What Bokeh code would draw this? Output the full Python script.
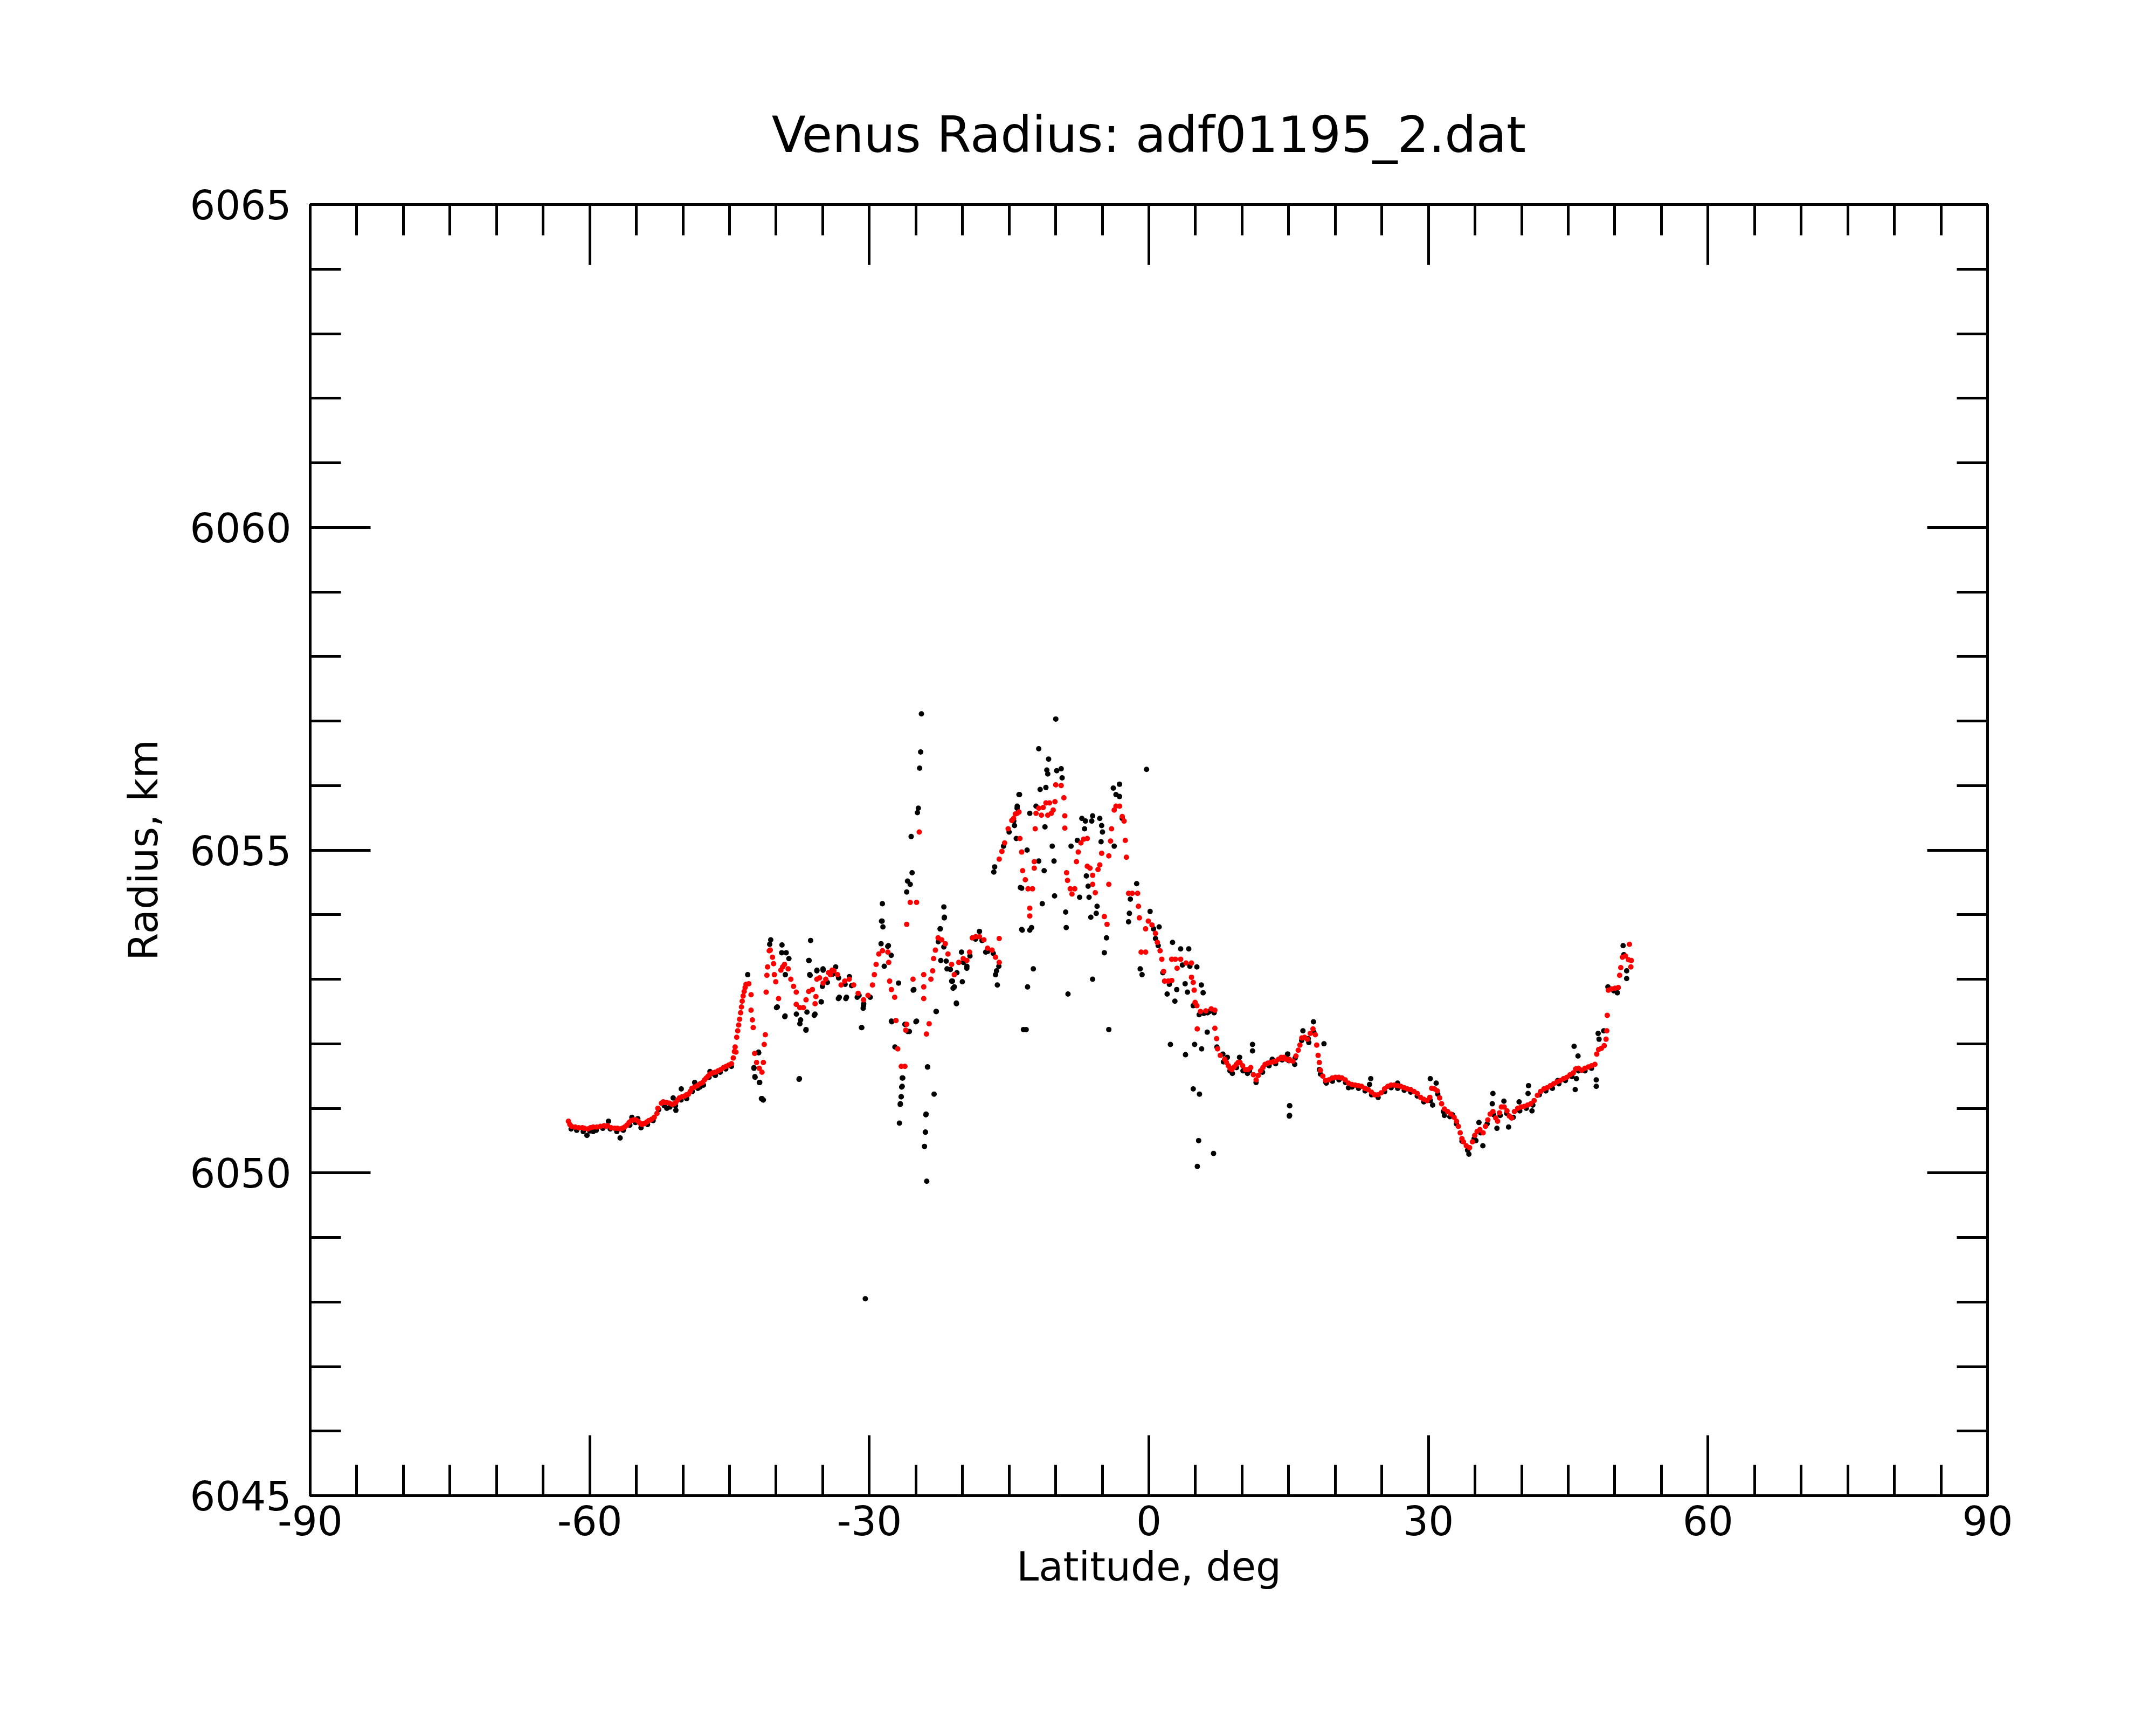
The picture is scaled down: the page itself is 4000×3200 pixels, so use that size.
from bokeh.plotting import figure
from bokeh.models import Range1d, LinearAxis, FixedTicker, ColumnDataSource
from bokeh.embed import file_html
from bokeh.resources import INLINE

title_text = "Venus Radius: adf01195_2.dat"
x_label = "Latitude, deg"
y_label = "Radius, km"

x_ticks = [-90, -60, -30, 0, 30, 60, 90]
x_tick_labels = ["-90", "-60", "-30", "0", "30", "60", "90"]
x_minor = list(range(-90, 91, 5))
y_ticks = [6045, 6050, 6055, 6060, 6065]
y_tick_labels = ["6045", "6050", "6055", "6060", "6065"]
y_minor = list(range(6045, 6066))

# Smoothed radius profile (red)
red_lat = [
    -62.29, -61.95, -61.56, -61.18, -60.79, -60.21, -59.63, -59.24, -58.86, -58.47,
    -58.09, -57.70, -57.32, -56.74, -56.26, -55.78, -55.30, -54.81, -54.43, -54.04,
    -53.66, -53.08, -52.79, -52.69, -52.31, -51.92, -51.73, -51.15, -50.77, -50.38,
    -49.80, -49.41, -49.03, -48.74, -48.45, -48.16, -47.88, -47.49, -47.10, -46.81,
    -46.52, -46.23, -45.94, -45.65, -45.37, -45.08, -44.79, -44.60, -44.47, -44.31,
    -62.14, -60.59, -59.92, -58.28, -57.03, -56.51, -56.01, -55.54, -55.04, -54.62,
    -54.23, -53.85, -53.36, -52.11, -51.44, -50.95, -50.57, -50.09, -49.61, -49.22,
    -47.68, -47.29, -44.40, -44.12, -43.92, -43.72, -43.54, -43.33,
    -44.23, -44.02, -43.81, -43.64, -43.43, -43.23, -42.93, -42.69, -42.69, -42.55,
    -42.46, -42.31, -42.10, -41.81, -41.52, -41.37, -41.28, -41.16, -41.07, -40.99,
    -40.92, -40.74, -40.63, -40.39, -40.27, -40.19, -40.04, -39.74, -39.49, -39.30,
    -39.10, -38.71, -38.42, -38.13, -37.84, -37.84, -37.46, -37.07, -36.79, -36.50,
    -36.11, -35.82, -35.73, -35.63, -35.34, -34.96, -34.67, -34.38, -34.18, -34.00,
    -33.80, -33.41, -33.03, -32.64, -32.16, -31.68, -31.20, -30.62, -30.14, -29.66,
    -29.46, -29.27, -28.98, -28.59, -28.01, -27.92, -27.82, -27.63, -27.28, -27.14,
    -26.95, -26.57, -26.18, -26.09, -25.99, -25.99, -25.61, -24.93, -24.64, -25.31,
    -24.16, -24.16, -24.16, -23.87, -23.58, -23.39, -23.20, -23.10, -22.91, -22.62,
    -22.23, -21.85, -21.56, -21.17, -20.88, -20.40, -19.92, -19.53, -19.24, -18.95,
    -18.57, -18.18, -17.70, -17.31, -16.83, -16.45, -16.06, -16.06, -16.06, -15.77,
    -15.48, -15.10, -14.71, -14.33, -13.94, -14.52, -14.13, -13.84, -13.65, -13.55,
    -13.26, -12.97, -12.78, -12.78, -12.49, -12.30, -12.30, -12.20, -12.11, -11.82,
    -11.53, -11.34, -11.05, -10.85, -10.66, -10.47, -10.27, -10.08, -9.99, -9.41,
    -9.12, -9.02, -9.02, -8.83, -8.73, -8.44, -8.25, -7.96, -7.77, -7.58,
    -7.29, -7.00, -6.61, -6.61, -6.32, -6.03, -6.03, -5.75, -5.46, -5.27,
    -5.07, -4.78, -4.49, -4.30, -4.30, -4.11, -4.01, -3.72, -3.53, -3.14,
    -2.86, -2.66, -2.53, -2.41, -2.18, -1.79, -1.21, -1.12, -1.02, -0.83,
    -0.35, -0.35, -0.06, 0.33, 0.71, 0.91, 1.20, 1.39, 1.58, 1.68,
    2.07, 2.45, 2.45, 2.84, 3.03, 3.41, 3.99, 4.57, 4.57, 4.76,
    4.86, 4.96, 5.15, 5.19, 5.53, 6.11, 6.69, 7.08, 7.08, 7.27,
    7.37, 7.66, 8.14, 8.33, 8.53, 8.71, 8.91, 9.15, 9.39, 9.58,
    9.78, 10.06, 10.35, 10.64, 10.93, 11.22, 11.51, 11.74, 11.99, 12.24,
    12.47, 12.76, 13.05, 13.34, 13.63, 13.92, 14.21, 14.49, 14.40, 14.75,
    15.07, 15.10, 15.45, 15.78, 16.03, 16.21, 16.41, 16.71, 17.01, 17.31,
    17.61, 17.86, 18.01, 18.16, 18.29, 18.41, 18.66, 18.96, 19.32, 19.67,
    20.02, 20.37, 20.72, 21.07, 21.42, 21.77, 22.13, 22.48, 22.83, 23.18,
    23.53, 23.88, 24.23, 24.58, 24.93, 25.29, 25.64, 25.99, 26.34, 26.69,
    27.04, 27.39, 27.74, 28.09, 28.45, 28.80, 29.15, 29.50, 29.85, 30.15,
    30.35, 30.65, 30.95, 31.20, 31.41, 31.71, 32.06, 32.41, 32.76, 33.01,
    33.21, 33.41, 33.59, 33.76, 34.06, 34.42, 34.72, 34.97, 35.22, 35.52,
    35.87, 36.12, 36.37, 36.62, 36.92, 37.22, 37.42, 37.63, 37.83, 38.13,
    38.43, 38.68, 38.93, 39.23, 39.58, 39.93, 40.28, 40.64, 40.99, 41.34,
    41.69, 42.04, 42.39, 42.74, 43.09, 43.44, 43.80, 44.15, 44.50, 44.85,
    45.20, 45.55, 45.80, 46.10, 46.45, 46.80, 47.16, 47.51, 47.86, 48.06,
    48.26, 48.56, 48.86, 49.06, 49.14, 49.19, 49.31, 49.66, 50.02, 50.37,
    50.52, 50.64, 50.82, 51.14, 51.47, 51.57, 51.72, 51.77,
]
red_rad = [
    6050.80, 6050.72, 6050.71, 6050.70, 6050.70, 6050.68, 6050.71, 6050.71, 6050.72, 6050.73,
    6050.73, 6050.70, 6050.69, 6050.68, 6050.71, 6050.78, 6050.82, 6050.80, 6050.75, 6050.77,
    6050.81, 6050.86, 6050.92, 6051.00, 6051.08, 6051.09, 6051.09, 6051.06, 6051.09, 6051.16,
    6051.19, 6051.22, 6051.31, 6051.33, 6051.35, 6051.38, 6051.40, 6051.47, 6051.53, 6051.55,
    6051.56, 6051.58, 6051.60, 6051.63, 6051.65, 6051.67, 6051.69, 6051.78, 6051.88, 6051.87,
    6050.75, 6050.69, 6050.70, 6050.72, 6050.69, 6050.69, 6050.74, 6050.81, 6050.82, 6050.77,
    6050.76, 6050.79, 6050.83, 6051.10, 6051.08, 6051.07, 6051.13, 6051.18, 6051.21, 6051.26,
    6051.44, 6051.50, 6051.95, 6052.20, 6052.38, 6052.57, 6052.74, 6052.87,
    6052.10, 6052.29, 6052.48, 6052.66, 6052.81, 6052.92, 6052.93, 6052.76, 6052.52, 6052.37,
    6052.25, 6051.85, 6051.71, 6051.62, 6051.56, 6051.71, 6051.99, 6052.14, 6052.80, 6053.06,
    6053.19, 6053.44, 6053.45, 6053.34, 6053.24, 6053.07, 6052.96, 6052.70, 6053.14, 6053.19,
    6053.23, 6053.16, 6053.00, 6052.89, 6052.80, 6052.61, 6052.56, 6052.56, 6052.68, 6052.81,
    6052.84, 6052.62, 6052.73, 6053.00, 6053.02, 6052.94, 6053.00, 6053.10, 6053.07, 6053.14,
    6053.13, 6053.07, 6052.91, 6052.97, 6053.00, 6052.91, 6052.78, 6052.68, 6052.75, 6052.91,
    6053.07, 6053.23, 6053.39, 6053.44, 6053.42, 6053.26, 6052.97, 6052.84, 6052.72, 6052.36,
    6051.92, 6051.65, 6051.65, 6052.21, 6052.30, 6053.85, 6054.19, 6054.19, 6055.28, 6053.00,
    6053.07, 6052.88, 6052.70, 6052.15, 6052.31, 6053.00, 6053.13, 6053.32, 6053.45, 6053.64,
    6053.61, 6053.55, 6053.39, 6053.23, 6053.07, 6053.26, 6053.32, 6053.29, 6053.42, 6053.64,
    6053.66, 6053.66, 6053.61, 6053.48, 6053.45, 6053.34, 6053.26, 6053.63, 6054.86, 6054.98,
    6055.11, 6055.33, 6055.46, 6055.56, 6055.59, 6055.49, 6055.57, 6055.18, 6054.97, 6054.68,
    6054.54, 6054.40, 6054.10, 6053.98, 6054.40, 6054.72, 6054.82, 6055.33, 6055.57, 6055.65,
    6055.54, 6055.66, 6055.73, 6055.54, 6055.73, 6055.57, 6055.62, 6055.75, 6056.01, 6056.00,
    6055.81, 6055.53, 6055.34, 6054.65, 6054.53, 6054.40, 6054.32, 6054.40, 6054.82, 6054.97,
    6055.11, 6055.17, 6055.18, 6054.75, 6054.72, 6054.61, 6054.47, 6054.34, 6054.70, 6054.77,
    6054.95, 6053.97, 6053.85, 6054.47, 6054.91, 6055.14, 6055.33, 6055.62, 6055.68, 6055.68,
    6055.52, 6055.45, 6055.15, 6054.89, 6054.33, 6054.33, 6054.33, 6054.13, 6053.95, 6053.42,
    6053.42, 6053.78, 6053.90, 6053.84, 6053.71, 6053.57, 6053.44, 6053.31, 6053.12, 6052.97,
    6052.97, 6052.98, 6053.31, 6053.31, 6053.17, 6053.31, 6053.25, 6053.25, 6053.03, 6052.95,
    6052.83, 6052.64, 6052.59, 6052.23, 6052.50, 6052.51, 6052.54, 6052.52, 6052.24, 6052.08,
    6051.92, 6051.82, 6051.76, 6051.71, 6051.66, 6051.62, 6051.60, 6051.64, 6051.68, 6051.71,
    6051.71, 6051.66, 6051.60, 6051.60, 6051.63, 6051.52, 6051.44, 6051.51, 6051.58, 6051.63,
    6051.68, 6051.70, 6051.71, 6051.72, 6051.73, 6051.76, 6051.79, 6051.79, 6051.77, 6051.76,
    6051.76, 6051.74, 6051.73, 6051.81, 6051.90, 6051.98, 6052.09, 6052.10, 6052.07, 6052.16,
    6052.23, 6052.14, 6051.98, 6051.82, 6051.71, 6051.59, 6051.50, 6051.43, 6051.44, 6051.47,
    6051.48, 6051.48, 6051.47, 6051.44, 6051.39, 6051.37, 6051.36, 6051.35, 6051.34, 6051.31,
    6051.29, 6051.25, 6051.21, 6051.21, 6051.24, 6051.30, 6051.34, 6051.36, 6051.36, 6051.35,
    6051.34, 6051.32, 6051.30, 6051.29, 6051.26, 6051.23, 6051.17, 6051.14, 6051.12, 6051.17,
    6051.31, 6051.30, 6051.27, 6051.16, 6051.07, 6050.99, 6050.95, 6050.91, 6050.86, 6050.80,
    6050.72, 6050.62, 6050.53, 6050.48, 6050.42, 6050.39, 6050.48, 6050.58, 6050.64, 6050.67,
    6050.62, 6050.72, 6050.82, 6050.91, 6050.95, 6050.85, 6050.80, 6050.93, 6051.02, 6051.02,
    6050.96, 6050.88, 6050.85, 6050.95, 6051.00, 6051.02, 6051.03, 6051.05, 6051.07, 6051.12,
    6051.20, 6051.26, 6051.30, 6051.32, 6051.35, 6051.38, 6051.41, 6051.43, 6051.46, 6051.48,
    6051.52, 6051.55, 6051.61, 6051.62, 6051.59, 6051.62, 6051.64, 6051.66, 6051.68, 6051.84,
    6051.91, 6051.93, 6051.97, 6052.07, 6052.20, 6052.44, 6052.83, 6052.85, 6052.86, 6052.87,
    6053.06, 6053.18, 6053.34, 6053.36, 6053.30, 6053.54, 6053.19, 6053.29,
]

# Raw radius measurements (black)
black_lat = [
    -62.00, -61.40, -60.70, -60.00, -59.30, -58.60, -57.80, -57.10, -56.40, -55.70,
    -55.10, -54.50, -53.80, -53.20, -52.60, -52.00, -51.40, -50.80, -50.20, -49.60,
    -49.00, -48.40, -47.80, -47.20, -46.60, -46.00, -45.40, -44.80,
    -60.30, -56.74, -55.48, -54.85, -50.18, -50.76, -51.05, -51.73, -48.74, -48.16,
    -47.10, -46.52, -41.41, -41.80, -42.28, -42.38, -41.89, -57.99, -59.63,
    -43.05, -41.87, -42.26, -41.76, -41.58, -41.37, -40.58, -40.69, -39.37, -39.40,
    -38.92, -38.63, -39.01, -39.96, -39.07, -36.30, -36.50, -36.35, -35.62, -34.97,
    -33.61, -35.03, -35.17, -36.80, -37.45, -37.83, -35.91, -37.54, -32.14, -33.32,
    -32.52, -30.84, -30.66, -28.69, -28.54, -28.74, -27.95, -27.65, -26.86, -27.59,
    -25.29, -25.00, -25.88, -26.41, -26.53, -26.59, -26.68, -26.77, -23.76, -23.93,
    -23.99, -24.08, -23.84, -23.05, -22.84, -22.40, -21.96, -20.66, -21.01, -21.75,
    -19.54, -21.16,
    -39.87, -39.04, -36.46, -36.40, -35.63, -34.96, -35.15, -36.79, -37.37, -36.69,
    -35.83, -37.50, -42.38, -41.51, -32.45, -33.22, -30.81, -30.62, -30.43, -31.10,
    -28.60, -28.63, -28.02, -28.40, -27.63, -27.25, -26.47, -26.47, -26.57, -26.67,
    -26.18, -25.99, -25.90, -25.61, -25.41, -25.51, -24.84, -24.74, -24.60, -24.49,
    -24.41, -25.70, -24.93, -25.22, -23.74, -23.91, -23.97, -22.81, -22.39, -22.00,
    -21.94, -22.33, -21.66, -21.08, -20.88, -20.65, -20.02, -20.11, -19.53, -18.18,
    -17.51, -16.35, -16.45, -16.26, -16.64, -16.55, -13.94, -14.14, -13.65, -13.65,
    -13.46,
    -34.50, -33.90, -33.30, -32.60, -31.90, -31.30, -30.60, -29.90, -22.60, -22.00,
    -21.30, -20.60, -19.90, -19.20, -18.60, -17.90, -17.30, -16.70, -16.10, -15.60,
    -15.00, -14.50,
    -13.88, -14.13, -14.42, -14.23, -13.07, -12.78, -13.79, -13.59, -12.78, -12.59,
    -12.40, -13.02, -13.17, -11.82, -10.76, -10.95, -10.85, -9.99, -9.89, -9.41,
    -9.31, -11.67, -11.05, -12.11, -11.15, -11.82, -11.24, -11.44, -10.37, -10.18,
    -10.12, -8.93, -8.87, -8.68, -8.35, -7.68, -7.19, -6.81, -6.90, -6.04,
    -6.13, -5.27, -5.07, -4.98, -5.13, -7.43, -6.42, -6.52, -6.71, -5.56,
    -5.65, -6.23, -6.04, -4.55, -4.78, -4.30, -3.72, -3.82, -3.15, -3.53,
    -3.15, -2.86, -2.18, -2.09, -1.99, -1.31, -0.25, -0.93, -0.73, 0.13,
    1.10, 0.71, 2.54, 3.41, 4.28, 1.96, 2.79, 2.99, 3.89, 4.14,
    5.15, 5.63, 5.82, 4.76, 2.31, 3.93, 4.91, 5.66, 6.26, 4.76,
    5.43, 5.34, 5.20, 6.94, 9.73, 8.96, 10.58, 11.12, 11.12, 15.11,
    15.07, 13.24, 14.88, 8.42, 7.94,
    0.50, 1.00, 1.50, 2.20, 3.60, 4.40, 5.40, 6.30, 7.00, 7.30, 6.50, 5.90,
    8.00, 8.70, 9.40, 10.10, 10.80, 11.50, 12.20, 12.90, 13.60, 14.30,
    15.00, 15.70, 16.40, 17.10, 17.70, 18.30,
    15.10, 15.10, 17.66, 18.79, 16.53, 14.90, 15.65, 17.16, 18.41, 19.04,
    23.81, 23.68, 21.42, 26.69, 30.20, 30.83, 30.45, 31.71, 32.58, 34.34,
    34.22, 35.42, 35.09, 35.84, 36.92, 36.85, 37.35, 38.10, 38.60, 39.73,
    40.74, 40.69, 41.11, 43.87, 45.63, 46.05, 45.88, 45.75, 48.01, 48.01,
    48.21, 48.81, 48.31, 49.89, 50.27, 50.89, 50.97, 51.27, 51.27, 49.26,
    19.00, 19.70, 20.40, 21.10, 21.80, 22.50, 23.20, 23.90, 24.60, 25.30,
    26.00, 26.70, 27.40, 28.10, 28.80, 29.50, 30.20, 31.00, 31.60, 32.30,
    33.00, 33.60, 34.20, 34.90, 35.60, 36.30, 37.00, 37.70, 38.40, 39.10,
    39.80, 40.50, 41.20, 41.90, 42.60, 43.30, 44.00, 44.70, 45.40, 46.10,
    46.80, 47.50,
]
black_rad = [
    6050.68, 6050.66, 6050.64, 6050.65, 6050.66, 6050.69, 6050.68, 6050.64, 6050.66, 6050.74,
    6050.78, 6050.70, 6050.75, 6050.81, 6050.98, 6051.04, 6051.02, 6051.04, 6051.13, 6051.15,
    6051.26, 6051.31, 6051.36, 6051.48, 6051.52, 6051.56, 6051.61, 6051.65,
    6050.58, 6050.54, 6050.86, 6050.84, 6051.30, 6050.97, 6051.16, 6051.00, 6051.40, 6051.33,
    6051.57, 6051.51, 6051.13, 6051.40, 6051.49, 6051.62, 6051.87, 6050.80, 6050.64,
    6053.07, 6051.86, 6051.48, 6051.40, 6051.15, 6051.13, 6053.61, 6053.54, 6053.53, 6053.41,
    6053.41, 6053.32, 6053.07, 6052.56, 6052.42, 6053.60, 6053.29, 6053.06, 6053.14, 6053.16,
    6053.19, 6052.89, 6052.65, 6052.21, 6052.31, 6052.46, 6052.44, 6051.45, 6053.04, 6052.70,
    6052.70, 6052.25, 6052.55, 6053.90, 6053.81, 6053.55, 6053.52, 6053.37, 6052.94, 6052.34,
    6052.83, 6052.34, 6052.19, 6051.47, 6051.33, 6051.18, 6051.06, 6050.77, 6051.64, 6050.90,
    6050.63, 6050.41, 6049.87, 6051.22, 6052.50, 6053.78, 6053.95, 6052.63, 6052.86, 6053.28,
    6053.17, 6052.97,
    6052.57, 6052.43, 6053.29, 6053.07, 6053.13, 6053.14, 6052.65, 6052.22, 6052.37, 6052.49,
    6052.46, 6051.46, 6051.63, 6051.15, 6052.72, 6052.72, 6052.25, 6052.59, 6048.05, 6052.75,
    6054.17, 6053.90, 6053.51, 6053.20, 6052.35, 6051.95, 6051.47, 6051.34, 6051.18, 6051.07,
    6052.30, 6054.35, 6054.52, 6054.47, 6054.65, 6055.21, 6055.58, 6055.65, 6056.27, 6056.52,
    6057.11, 6052.19, 6052.35, 6052.84, 6051.64, 6050.91, 6050.63, 6052.50, 6053.78, 6054.12,
    6053.96, 6053.29, 6053.16, 6052.97, 6052.88, 6052.62, 6052.96, 6053.42, 6053.20, 6053.74,
    6053.42, 6053.13, 6053.07, 6052.91, 6054.66, 6054.74, 6055.86, 6055.65, 6054.41, 6053.77,
    6052.22,
    6052.95, 6053.08, 6053.02, 6052.92, 6052.90, 6052.72, 6052.62, 6052.72, 6053.58, 6053.50,
    6053.15, 6053.10, 6053.26, 6053.36, 6053.62, 6053.60, 6053.43, 6053.40, 6053.20, 6055.06,
    6055.28, 6055.45,
    6055.86, 6055.68, 6055.38, 6055.18, 6055.00, 6055.57, 6054.42, 6053.76, 6053.76, 6053.80,
    6053.16, 6052.88, 6052.22, 6056.57, 6056.41, 6056.24, 6056.18, 6057.03, 6056.23, 6056.26,
    6056.12, 6055.94, 6055.97, 6055.68, 6055.36, 6054.83, 6054.68, 6054.17, 6055.06, 6054.83,
    6054.29, 6054.04, 6053.80, 6052.77, 6055.06, 6055.15, 6055.49, 6055.45, 6055.33, 6055.53,
    6055.45, 6055.49, 6055.38, 6055.28, 6055.13, 6054.27, 6054.27, 6054.44, 6054.60, 6054.13,
    6054.02, 6053.96, 6053.00, 6053.64, 6053.41, 6052.22, 6055.06, 6055.96, 6056.02, 6055.86,
    6055.83, 6055.49, 6053.89, 6054.02, 6054.24, 6054.48, 6056.25, 6053.16, 6053.07, 6054.05,
    6053.81, 6053.63, 6053.57, 6053.47, 6053.47, 6052.77, 6052.66, 6052.84, 6052.93, 6052.80,
    6053.19, 6052.91, 6052.79, 6052.59, 6051.99, 6051.83, 6051.99, 6051.92, 6052.18, 6051.30,
    6051.22, 6050.50, 6050.10, 6050.30, 6051.79, 6051.54, 6051.54, 6051.99, 6051.89, 6051.04,
    6050.88, 6051.76, 6051.84, 6051.79, 6051.84,
    6053.78, 6053.52, 6053.10, 6052.92, 6053.22, 6053.20, 6052.45, 6052.48, 6052.48, 6051.95, 6052.50, 6052.47,
    6051.72, 6051.58, 6051.63, 6051.58, 6051.58, 6051.40, 6051.56, 6051.66, 6051.69, 6051.75,
    6051.74, 6051.78, 6052.05, 6052.08, 6052.18, 6051.60,
    6051.04, 6050.89, 6052.34, 6052.00, 6052.20, 6051.84, 6051.68, 6052.02, 6051.53, 6051.39,
    6051.46, 6051.37, 6051.32, 6051.39, 6051.46, 6051.39, 6051.05, 6050.89, 6050.90, 6050.29,
    6050.35, 6050.78, 6050.50, 6050.42, 6051.23, 6051.07, 6050.69, 6051.11, 6050.71, 6051.10,
    6051.35, 6051.23, 6050.96, 6051.43, 6051.96, 6051.81, 6051.46, 6051.29, 6051.44, 6051.34,
    6052.16, 6052.20, 6052.07, 6052.82, 6052.79, 6053.52, 6053.38, 6053.13, 6053.01, 6052.88,
    6051.40, 6051.42, 6051.44, 6051.40, 6051.33, 6051.31, 6051.27, 6051.21, 6051.17, 6051.26,
    6051.32, 6051.31, 6051.28, 6051.25, 6051.19, 6051.10, 6051.12, 6051.22, 6050.95, 6050.87,
    6050.76, 6050.49, 6050.35, 6050.53, 6050.62, 6050.76, 6050.90, 6050.89, 6050.92, 6050.86,
    6050.96, 6051.00, 6051.05, 6051.21, 6051.27, 6051.31, 6051.38, 6051.43, 6051.49, 6051.58,
    6051.58, 6051.62,
]

FONT = "DejaVu Sans"
FS = "74px"

p = figure(width=3980, height=3180, output_backend="svg", toolbar_location=None,
           x_range=Range1d(-90, 90), y_range=Range1d(6045, 6065),
           min_border_left=575, min_border_right=293, min_border_top=379,
           min_border_bottom=406, background_fill_color="white",
           border_fill_color="white", title=title_text)

p.xgrid.grid_line_color = None
p.ygrid.grid_line_color = None
p.outline_line_color = "black"
p.outline_line_width = 5

p.title.align = "center"
p.title.text_font = FONT
p.title.text_font_size = "92px"
p.title.text_font_style = "normal"
p.title.text_color = "black"
p.title.standoff = 151


def style_axis(ax, ticks, minor, labels):
    ax.ticker = FixedTicker(ticks=ticks, minor_ticks=minor)
    ax.axis_line_width = 5
    ax.axis_line_color = "black"
    ax.major_tick_in = 112
    ax.major_tick_out = 0
    ax.minor_tick_in = 57
    ax.minor_tick_out = 0
    ax.major_tick_line_width = 5
    ax.minor_tick_line_width = 5
    ax.major_tick_line_color = "black"
    ax.minor_tick_line_color = "black"
    ax.major_label_text_font = FONT
    ax.major_label_text_color = "black"
    if labels is None:
        ax.major_label_text_font_size = "0px"
        ax.major_label_standoff = 0
    else:
        ax.major_label_text_font_size = FS
        ax.major_label_overrides = {t: s for t, s in zip(ticks, labels)}


xa = p.xaxis[0]
ya = p.yaxis[0]
style_axis(xa, x_ticks, x_minor, x_tick_labels)
style_axis(ya, y_ticks, y_minor, y_tick_labels)
xa.major_label_standoff = 18
ya.major_label_standoff = 35
xa.axis_label = x_label
ya.axis_label = y_label
for ax in (xa, ya):
    ax.axis_label_text_font = FONT
    ax.axis_label_text_font_size = FS
    ax.axis_label_text_font_style = "normal"
    ax.axis_label_text_color = "black"
xa.axis_label_standoff = 12
ya.axis_label_standoff = 40

top = LinearAxis()
style_axis(top, x_ticks, x_minor, None)
p.add_layout(top, "above")
right = LinearAxis()
style_axis(right, y_ticks, y_minor, None)
p.add_layout(right, "right")

black_src = ColumnDataSource(dict(lat=black_lat, rad=black_rad))
red_src = ColumnDataSource(dict(lat=red_lat, rad=red_rad))
p.scatter("lat", "rad", source=black_src, size=10, fill_color="black", line_color=None)
p.scatter("lat", "rad", source=red_src, size=10, fill_color="red", line_color=None)

open("out.html", "w").write(file_html(p, INLINE))
